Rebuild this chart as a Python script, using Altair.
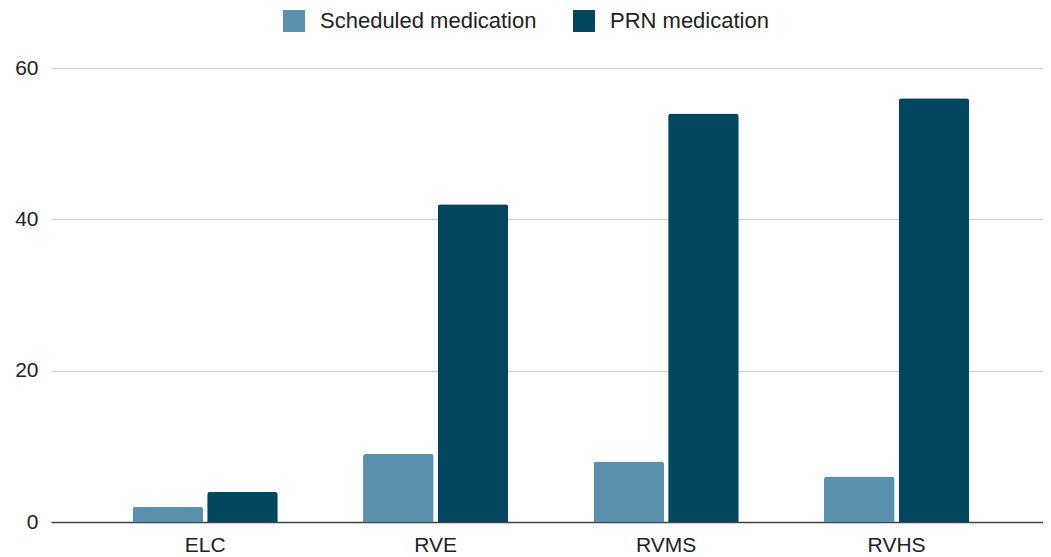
import altair as alt
import pandas as pd

categories = ["ELC", "RVE", "RVMS", "RVHS"]
series = ["Scheduled medication", "PRN medication"]
scheduled = [2, 9, 8, 6]
prn = [4, 42, 54, 56]
colors = ["#5890ae", "#02465f"]
y_ticks = [0, 20, 40, 60]

rows = []
for c, s, p in zip(categories, scheduled, prn):
    rows.append({"category": c, "series": series[0], "value": s})
    rows.append({"category": c, "series": series[1], "value": p})
df = pd.DataFrame(rows)

FONT = "Liberation Sans"

chart = alt.Chart(df).mark_bar(
    cornerRadiusTopLeft=3, cornerRadiusTopRight=3
).encode(
    x=alt.X(
        "category:N",
        sort=categories,
        title=None,
        scale=alt.Scale(paddingInner=0.37, paddingOuter=0.337, align=0.525),
        axis=alt.Axis(
            labelAngle=0,
            labelFont=FONT,
            labelFontSize=21,
            labelColor="#222222",
            labelPadding=12,
            ticks=False,
            domain=True,
            domainColor="#444444",
            domainWidth=1.6,
            grid=False,
        ),
    ),
    xOffset=alt.XOffset(
        "series:N",
        sort=series,
        scale=alt.Scale(paddingInner=0.054, paddingOuter=0),
    ),
    y=alt.Y(
        "value:Q",
        title=None,
        scale=alt.Scale(domain=[0, 60], nice=False),
        axis=alt.Axis(
            values=y_ticks,
            labelFont=FONT,
            labelFontSize=21,
            labelColor="#222222",
            labelPadding=13,
            ticks=False,
            domain=False,
            grid=True,
            gridColor="#cfcfcf",
            gridWidth=1.2,
        ),
    ),
    color=alt.Color(
        "series:N",
        sort=series,
        scale=alt.Scale(domain=series, range=colors),
        legend=alt.Legend(
            title=None,
            orient="none",
            direction="horizontal",
            legendX=232,
            legendY=-58,
            padding=0,
            symbolType="square",
            symbolSize=484,
            symbolStrokeWidth=0,
            symbolOpacity=1,
            labelFont=FONT,
            labelFontSize=22,
            labelColor="#222222",
            labelOffset=15,
            columnPadding=36,
            labelLimit=400,
        ),
    ),
).properties(
    width=992,
    height=454,
    autosize=alt.AutoSizeParams(type="none"),
    padding={"left": 43, "top": 60, "right": 0, "bottom": 35},
).configure_view(stroke=None)

chart.save("out.html", embed_options={"renderer": "svg", "actions": False})
